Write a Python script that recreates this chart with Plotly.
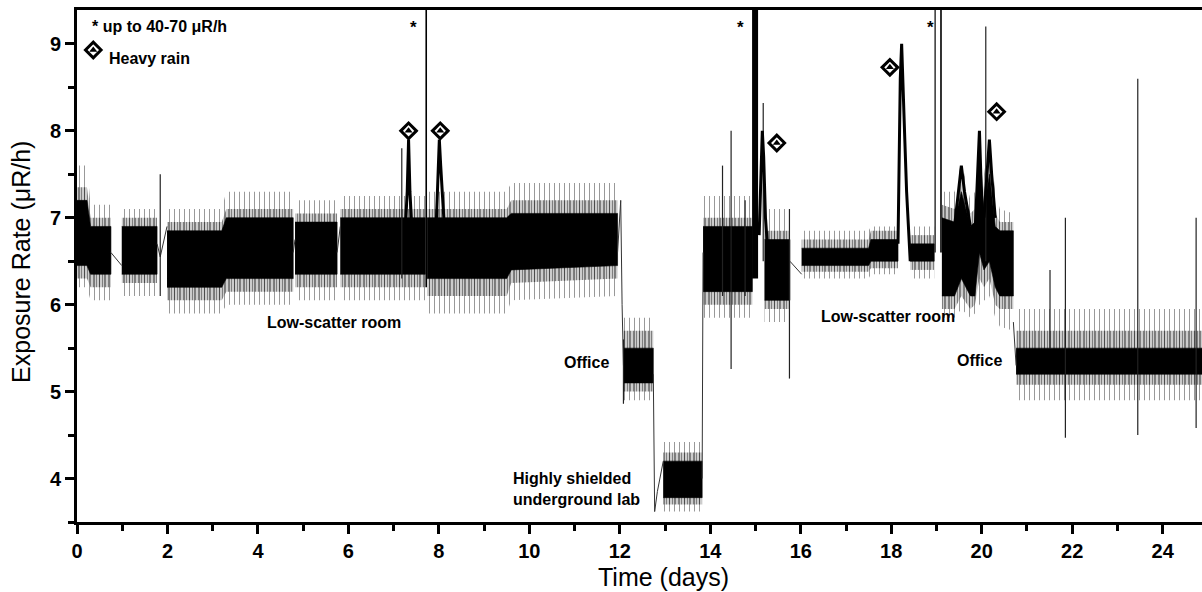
import plotly.graph_objects as go

# ---------------- data ----------------
# Noise envelopes of the measurement, one run per continuous recording (None separates runs)
env_t = [0.00, 0.22, 0.30, 0.75, None,
         0.99, 1.77, None,
         1.99, 3.20, 3.30, 4.78, None,
         4.82, 5.75, None,
         5.82, 7.70, None,
         7.74, 9.50, 9.60, 11.95, None,
         12.08, 12.74, None,
         12.96, 13.82, None,
         13.84, 14.93, None,
         15.20, 15.76, None,
         16.02, 17.50, 17.55, 18.15, None,
         18.42, 18.95, None,
         19.12, 19.40, 19.55, 19.75, 19.85, 19.95, 20.05, 20.17, 20.30, 20.40, 20.70, None,
         20.76, 24.87]
core_lo = [6.45, 6.45, 6.35, 6.35, None, 6.35, 6.35, None, 6.2, 6.2, 6.3, 6.3, None,
           6.35, 6.35, None, 6.35, 6.35, None, 6.3, 6.3, 6.4, 6.45, None, 5.1, 5.1, None,
           3.78, 3.78, None, 6.15, 6.15, None, 6.05, 6.05, None, 6.45, 6.45, 6.5, 6.5, None,
           6.5, 6.5, None, 6.1, 6.1, 6.3, 6.1, 6.1, 6.6, 6.4, 6.5, 6.2, 6.1, 6.1, None, 5.2, 5.2]
core_hi = [7.2, 7.2, 6.9, 6.9, None, 6.9, 6.9, None, 6.85, 6.85, 7.0, 7.0, None,
           6.95, 6.95, None, 7.0, 7.0, None, 7.0, 7.0, 7.05, 7.05, None, 5.5, 5.5, None,
           4.2, 4.2, None, 6.9, 6.9, None, 6.75, 6.75, None, 6.65, 6.65, 6.75, 6.75, None,
           6.7, 6.7, None, 7.0, 6.95, 7.3, 6.9, 6.95, 7.6, 7.1, 7.5, 6.9, 6.85, 6.85, None, 5.5, 5.5]
mid_lo = [6.3, 6.3, 6.2, 6.2, None, 6.25, 6.25, None, 6.05, 6.05, 6.15, 6.15, None,
          6.2, 6.2, None, 6.2, 6.2, None, 6.1, 6.1, 6.25, 6.3, None, 5.0, 5.0, None,
          3.7, 3.7, None, 6.0, 6.0, None, 5.95, 5.95, None, 6.38, 6.38, 6.42, 6.42, None,
          6.4, 6.4, None, 5.95, 5.95, 6.1, 5.95, 6.0, 6.3, 6.2, 6.3, 6.0, 5.95, 5.95, None, 5.08, 5.08]
mid_hi = [7.35, 7.35, 7.0, 7.0, None, 7.0, 7.0, None, 6.95, 6.95, 7.1, 7.1, None,
          7.05, 7.05, None, 7.1, 7.1, None, 7.1, 7.1, 7.2, 7.2, None, 5.7, 5.7, None,
          4.3, 4.3, None, 7.0, 7.0, None, 6.85, 6.85, None, 6.75, 6.75, 6.85, 6.85, None,
          6.8, 6.8, None, 7.15, 7.1, 7.45, 7.05, 7.1, 7.75, 7.3, 7.65, 7.05, 6.95, 6.95, None, 5.7, 5.7]
out_lo = [6.2, 6.2, 6.05, 6.05, None, 6.1, 6.1, None, 5.9, 5.9, 6.0, 6.0, None,
          6.05, 6.05, None, 6.05, 6.05, None, 5.9, 5.9, 6.05, 6.1, None, 4.9, 4.9, None,
          3.62, 3.62, None, 5.85, 5.85, None, 5.8, 5.8, None, 6.3, 6.3, 6.35, 6.35, None,
          6.3, 6.3, None, 5.85, 5.85, 5.95, 5.85, 5.9, 6.0, 6.05, 6.1, 5.85, 5.75, 5.7, None, 4.9, 4.9]
out_hi = [7.6, 7.6, 7.15, 7.15, None, 7.1, 7.1, None, 7.1, 7.1, 7.3, 7.3, None,
          7.2, 7.2, None, 7.25, 7.25, None, 7.3, 7.3, 7.4, 7.4, None, 5.85, 5.85, None,
          4.42, 4.42, None, 7.25, 7.25, None, 7.1, 7.1, None, 6.85, 6.85, 6.9, 6.9, None,
          6.9, 6.9, None, 7.3, 7.3, 7.65, 7.2, 7.3, 8.0, 7.5, 7.9, 7.3, 7.1, 7.05, None, 5.95, 5.95]

# Connecting line segments between recordings
conn_t = [0.75, 0.99, None, 1.77, 1.84, 1.99, None, 4.78, 4.82, None, 5.75, 5.82, None,
          11.95, 12.02, 12.05, 12.08, None, 12.74, 12.77, 12.83, 12.96, None,
          13.82, 13.84, None, 15.76, 16.02, None, 20.70, 20.76]
conn_v = [6.6, 6.45, None, 6.7, 6.55, 6.9, None, 6.6, 6.75, None, 6.6, 6.9, None,
          6.6, 7.2, 6.0, 5.3, None, 5.2, 3.62, 3.85, 4.2, None,
          4.0, 6.6, None, 6.5, 6.35, None, 5.8, 5.3]

# Rain-related excursions
peak_t = [7.26, 7.30, 7.33, 7.36, 7.40, None,
          7.94, 7.98, 8.01, 8.04, 8.08, 8.12, None,
          15.08, 15.12, 15.15, 15.18, 15.22, 15.26, None,
          18.15, 18.20, 18.23, 18.26, 18.30, 18.34, 18.38, 18.42, None,
          19.40, 19.50, 19.55, 19.62, 19.75, None,
          19.86, 19.92, 19.95, 19.98, 20.02, None,
          20.05, 20.12, 20.17, 20.22, 20.30]
peak_v = [6.9, 7.3, 7.9, 7.3, 6.9, None,
          6.9, 7.4, 7.9, 7.6, 7.2, 6.9, None,
          6.8, 7.6, 8.0, 7.7, 7.0, 6.7, None,
          6.7, 8.6, 9.0, 8.4, 7.9, 7.3, 6.8, 6.5, None,
          6.9, 7.4, 7.6, 7.3, 6.9, None,
          6.9, 7.8, 8.0, 7.5, 7.0, None,
          7.0, 7.6, 7.9, 7.5, 7.0]

# Isolated single-reading spikes
spike_t = [1.84, 7.18, 12.08, 14.27, 14.46, 14.77, 15.17, 15.75, 20.09, 21.51, 21.85, 23.45, 24.74]
spike_lo = [6.1, 6.3, 4.86, 6.1, 5.26, 6.1, 6.5, 5.15, 6.5, 5.5, 4.47, 4.5, 4.58]
spike_hi = [7.5, 7.8, 5.6, 7.6, 8.0, 7.2, 8.32, 7.1, 9.2, 6.4, 7.0, 8.6, 7.0]

# Off-scale events (up to 40-70 uR/h)
star_t = [7.72, 14.99, 18.97, 19.10]
star_lo = [6.2, 6.3, 6.6, 6.6]
star_hi = [50, 60, 45, 55]
star_mark_t = [7.43, 14.66, 18.87]

# Heavy rain markers
rain_t = [7.33, 8.03, 15.47, 17.97, 20.33]
rain_v = [8.0, 8.0, 7.86, 8.73, 8.22]

# Location labels
loc_text = ["Low-scatter room", "Office", "Highly shielded<br>underground lab", "Low-scatter room", "Office"]
loc_t = [5.69, 11.26, 11.04, 17.92, 19.96]
loc_v = [5.79, 5.33, 3.88, 5.86, 5.36]


# ---------------- helpers ----------------
def runs(ts, *cols):
    out, cur = [], None
    for i, t in enumerate(ts):
        if t is None:
            if cur:
                out.append(cur)
            cur = None
            continue
        if cur is None:
            cur = [[] for _ in range(len(cols) + 1)]
        cur[0].append(t)
        for k, c in enumerate(cols):
            cur[k + 1].append(c[i])
    if cur:
        out.append(cur)
    return out


fig = go.Figure()

FONT = "Liberation Sans, Arial, sans-serif"


def band(lo, hi, color, pattern=None):
    for t, l, h in runs(env_t, lo, hi):
        kw = {}
        if pattern:
            kw["fillpattern"] = pattern
        fig.add_trace(go.Scatter(
            x=t + t[::-1], y=h + l[::-1], mode="lines", fill="toself",
            fillcolor=color, line=dict(width=0.6, color=color), hoverinfo="skip",
            showlegend=False, **kw))


band(out_lo, out_hi, "rgba(0,0,0,0)",
     dict(shape="|", size=5, solidity=0.2, fgcolor="#333333"))
band(mid_lo, mid_hi, "rgba(0,0,0,0)",
     dict(shape="|", size=3, solidity=0.6, fgcolor="#000000"))
band(core_lo, core_hi, "black")

# connectors
fig.add_trace(go.Scatter(x=conn_t, y=conn_v, mode="lines",
                         line=dict(color="#333333", width=1), showlegend=False,
                         hoverinfo="skip"))

# spikes
sx, sy = [], []
for t, lo, hi in zip(spike_t, spike_lo, spike_hi):
    sx += [t, t, None]
    sy += [lo, hi, None]
fig.add_trace(go.Scatter(x=sx, y=sy, mode="lines", line=dict(color="#222222", width=1.2),
                         showlegend=False, hoverinfo="skip"))

# rain peaks
fig.add_trace(go.Scatter(x=peak_t, y=peak_v, mode="lines", line=dict(color="black", width=3),
                         showlegend=False, hoverinfo="skip"))

# off-scale events
star_w = [1.6, 6, 1.2, 1.6]
for t, lo, hi, w in zip(star_t, star_lo, star_hi, star_w):
    fig.add_trace(go.Scatter(x=[t, t], y=[lo, hi], mode="lines",
                             line=dict(color="black", width=w), showlegend=False,
                             hoverinfo="skip"))

# heavy-rain markers (+ legend symbol): half-filled diamonds
mk_t = rain_t + [0.36]
mk_v = rain_v + [8.93]
fig.add_trace(go.Scatter(x=mk_t, y=mk_v, mode="markers",
                         marker=dict(symbol="diamond", size=12, color="white",
                                     line=dict(color="black", width=3)),
                         showlegend=False, hoverinfo="skip"))
fig.add_trace(go.Scatter(x=mk_t, y=mk_v, mode="markers",
                         marker=dict(symbol="triangle-up", size=7, color="black",
                                     line=dict(width=0)),
                         showlegend=False, hoverinfo="skip"))

annotations = []
for t in star_mark_t:
    annotations.append(dict(x=t, y=9.19, text="*", showarrow=False,
                            font=dict(family=FONT, size=17, color="black", weight="bold")))
for txt, t, v in zip(loc_text, loc_t, loc_v):
    annotations.append(dict(x=t, y=v, text=txt, showarrow=False, align="left",
                            font=dict(family=FONT, size=16, color="black", weight="bold")))
annotations.append(dict(x=0.29, y=9.2, text="* up to 40-70 μR/h", showarrow=False,
                        xanchor="left", font=dict(family=FONT, size=16, color="black", weight="bold")))
annotations.append(dict(x=0.67, y=8.83, text="Heavy rain", showarrow=False,
                        xanchor="left", font=dict(family=FONT, size=16, color="black", weight="bold")))
annotations.append(dict(x=0.521, y=-0.107, xref="paper", yref="paper", text="Time (days)",
                        xanchor="center", yanchor="middle",
                        showarrow=False, font=dict(family=FONT, size=25, color="black")))
annotations.append(dict(x=-0.0498, y=0.508, xref="paper", yref="paper",
                        xanchor="center", yanchor="middle",
                        text="Exposure Rate (μR/h)", textangle=-90, showarrow=False,
                        font=dict(family=FONT, size=25, color="black")))

axis_common = dict(showgrid=False, zeroline=False, showline=True, linecolor="black",
                   linewidth=2.6, ticks="outside", tickcolor="black", tickwidth=2.6,
                   ticklen=9, automargin=False,
                   tickfont=dict(family=FONT, size=20, color="black", weight="bold"))

fig.update_layout(
    width=1202, height=592,
    margin=dict(l=77, r=0, t=10, b=70, autoexpand=False),
    paper_bgcolor="white", plot_bgcolor="white",
    annotations=annotations,
    xaxis=dict(range=[0, 24.87], tickvals=list(range(0, 25, 2)), mirror=True,
               minor=dict(dtick=1, tick0=0, ticks="outside", ticklen=6, tickwidth=2.6,
                          tickcolor="black"),
               **axis_common),
    yaxis=dict(range=[3.5, 9.39], tickvals=[4, 5, 6, 7, 8, 9],
               minor=dict(dtick=0.5, tick0=0, ticks="outside", ticklen=6, tickwidth=2.6,
                          tickcolor="black"),
               **axis_common),
)

fig.write_html("out.html", config={"responsive": False, "displayModeBar": False},
               post_script="document.body.style.margin='0px';"
                           "document.body.style.overflow='hidden';")
